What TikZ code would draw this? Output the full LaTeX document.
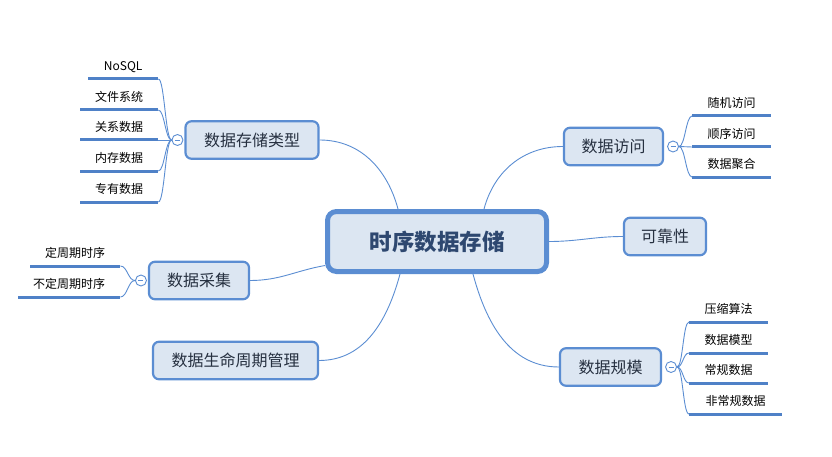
\documentclass[tikz,border=0pt]{standalone}
\usepackage{fontspec}
\setmainfont{Noto Sans CJK SC}
\usepackage{xcolor}
\usepackage{tikz}
\usetikzlibrary{positioning}

\definecolor{mapline}{RGB}{91,141,210}
\definecolor{mapfill}{RGB}{220,230,242}
\definecolor{maptext}{RGB}{38,48,64}
\definecolor{roottext}{RGB}{46,72,112}
\definecolor{leafline}{RGB}{79,129,199}

\begin{document}
\begin{tikzpicture}[
  x=1pt, y=1pt,
  rootbox/.style={
    draw=mapline,
    fill=mapfill,
    line width=5pt,
    rounded corners=9pt,
    minimum width=219pt,
    minimum height=60pt,
    text=roottext,
    font=\fontsize{22.5}{26}\selectfont\bfseries
  },
  topic/.style={
    draw=mapline,
    fill=mapfill,
    line width=2.2pt,
    rounded corners=6pt,
    minimum height=37.5pt,
    inner sep=0pt,
    text=maptext,
    font=\fontsize{16}{19}\selectfont
  },
  knob/.style={
    circle,
    draw=mapline,
    fill=white,
    line width=0.9pt,
    minimum size=11pt,
    inner sep=0pt,
    path picture={\draw[mapline, line width=0.9pt]
      ([xshift=-2.5pt]path picture bounding box.center) --
      ([xshift=2.5pt]path picture bounding box.center);}
  },
  leaf/.style={
    minimum width=#1,
    inner sep=0pt,
    text depth=8pt,
    anchor=south west,
    font=\fontsize{12}{14}\selectfont,
    append after command={(\tikzlastnode.south west) edge[under] (\tikzlastnode.south east)}
  },
  under/.style={draw=leafline, line width=3pt},
  branch/.style={draw=mapline, line width=0.9pt}
]
\useasboundingbox (0,0) rectangle (832,456);

\node[rootbox] (store) at (437,214.5) {时序数据存储};

\node[topic, minimum width=133pt] (kind) at (252,316) {数据存储类型};
\node[topic, minimum width=100pt] (collect) at (199,175.5) {数据采集};
\node[topic, minimum width=165pt] (life) at (235.5,95.5) {数据生命周期管理};
\node[topic, minimum width=99pt] (access) at (613.5,309.5) {数据访问};
\node[topic, minimum width=82pt] (reliable) at (665,219.5) {可靠性};
\node[topic, minimum width=101pt] (scale) at (610.5,89) {数据规模};

\node[knob, left=1pt of kind] (kindknob) {};
\node[knob, left=1pt of collect] (collectknob) {};
\node[knob, right=3pt of access] (accessknob) {};
\node[knob, right=3pt of scale] (scaleknob) {};

% leaves
\node[leaf=70pt] (nosql) at (88,377) {NoSQL};
\node[leaf=78pt] (filesys) at (80,346) {文件系统};
\node[leaf=78pt] (relational) at (80,316) {关系数据};
\node[leaf=78pt] (inmem) at (80,285) {内存数据};
\node[leaf=78pt] (special) at (80,254) {专有数据};
\node[leaf=90pt] (fixed) at (30,190) {定周期时序};
\node[leaf=102pt] (unfixed) at (18,159) {不定周期时序};
\node[leaf=79pt] (random) at (692,340) {随机访问};
\node[leaf=79pt] (sequential) at (692,309) {顺序访问};
\node[leaf=79pt] (aggregate) at (692,279) {数据聚合};
\node[leaf=79pt] (compress) at (689,134) {压缩算法};
\node[leaf=79pt] (model) at (689,103) {数据模型};
\node[leaf=79pt] (regular) at (689,73) {常规数据};
\node[leaf=93pt] (irregular) at (689,42) {非常规数据};

% main branches
\draw[branch] ([xshift=-39pt]store.north) to[out=105,in=0] (kind.east);
\draw[branch] ([xshift=47pt]store.north) to[out=75,in=180] (access.west);
\draw[branch] (store.east) to[out=0,in=180] (reliable.west);
\draw[branch] ([yshift=-24pt]store.west) to[out=190,in=0] (collect.east);
\draw[branch] ([xshift=-37pt]store.south) to[out=255,in=0] (life.east);
\draw[branch] ([xshift=36pt]store.south) to[out=285,in=180] (scale.west);

% leaf branches
\draw[branch] (kindknob.west) .. controls +(-6,0) and +(6,0) .. (nosql.south east);
\draw[branch] (kindknob.west) .. controls +(-6,0) and +(6,0) .. (filesys.south east);
\draw[branch] (kindknob.west) .. controls +(-6,0) and +(6,0) .. (relational.south east);
\draw[branch] (kindknob.west) .. controls +(-6,0) and +(6,0) .. (inmem.south east);
\draw[branch] (kindknob.west) .. controls +(-6,0) and +(6,0) .. (special.south east);
\draw[branch] (collectknob.west) .. controls +(-7,0) and +(7,0) .. (fixed.south east);
\draw[branch] (collectknob.west) .. controls +(-7,0) and +(7,0) .. (unfixed.south east);
\draw[branch] (accessknob.east) .. controls +(6,0) and +(-6,0) .. (random.south west);
\draw[branch] (accessknob.east) .. controls +(6,0) and +(-6,0) .. (sequential.south west);
\draw[branch] (accessknob.east) .. controls +(6,0) and +(-6,0) .. (aggregate.south west);
\draw[branch] (scaleknob.east) .. controls +(6,0) and +(-6,0) .. (compress.south west);
\draw[branch] (scaleknob.east) .. controls +(6,0) and +(-6,0) .. (model.south west);
\draw[branch] (scaleknob.east) .. controls +(6,0) and +(-6,0) .. (regular.south west);
\draw[branch] (scaleknob.east) .. controls +(6,0) and +(-6,0) .. (irregular.south west);
\end{tikzpicture}
\end{document}
